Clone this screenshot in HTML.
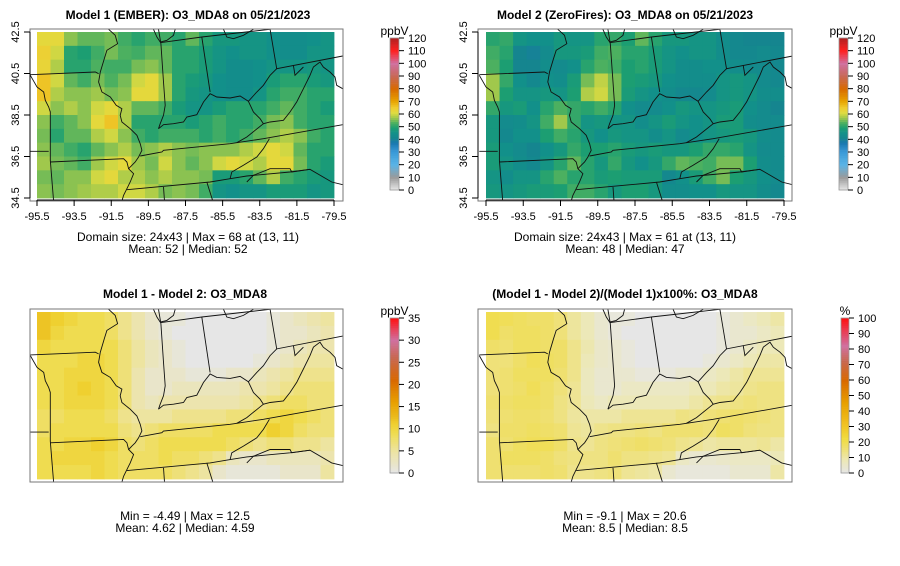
<!DOCTYPE html>
<html><head><meta charset="utf-8"><style>
body{margin:0;background:#fff;}
svg text{font-family:"Liberation Sans",sans-serif;}
</style></head><body>
<svg id="fig" width="900" height="561" xmlns="http://www.w3.org/2000/svg"></svg>
<script>
// ---- data (12 rows x 22 cols, north->south, west->east) ----
const model1O3 = [
[62,62,56,54,54,55,52,50,52,52,50,54,50,47,47,46,46,45,44,44,45,46],
[64,60,50,49,52,55,53,52,54,54,50,50,48,46,45,46,46,45,44,44,46,46],
[63,58,50,50,53,52,52,55,56,54,50,50,48,46,44,44,45,46,46,46,47,46],
[66,60,54,52,55,53,55,60,62,57,50,48,47,45,44,44,45,48,50,50,48,47],
[66,58,56,56,57,55,56,62,62,57,50,47,46,45,44,44,46,50,52,52,50,50],
[60,56,58,56,60,62,58,54,54,52,48,46,46,48,50,50,50,52,54,52,50,48],
[56,52,54,56,62,66,58,50,50,50,50,48,50,52,50,50,52,55,56,52,50,50],
[55,50,54,54,58,60,56,52,50,52,52,52,50,52,50,52,54,56,58,56,52,50],
[56,54,52,50,54,56,58,55,56,58,56,55,56,56,56,58,60,62,60,54,50,50],
[57,55,54,52,57,60,62,57,55,60,56,54,56,60,62,60,58,62,62,55,50,48],
[55,54,56,56,60,62,58,58,56,58,56,56,55,48,48,50,54,58,52,50,48,47],
[56,55,56,57,58,58,60,60,58,55,56,55,52,46,45,46,46,48,48,48,46,47]];
const model2O3 = [
[50,51,46,45,45,47,46,46,50,51,49,54,50,47,47,46,46,44,42,41,41,41],
[52,50,41,40,43,47,47,48,52,53,50,50,48,46,45,46,46,44,42,42,43,42],
[53,49,41,41,44,43,45,50,53,52,49,50,48,46,44,44,45,45,44,43,43,42],
[57,51,45,42,45,44,48,55,59,55,49,48,47,45,44,44,44,46,47,46,43,42],
[57,49,46,46,47,46,49,58,60,55,48,46,45,44,42,42,43,46,47,46,44,44],
[51,47,48,45,50,53,51,50,52,50,45,43,43,45,47,46,46,47,48,45,43,41],
[47,43,44,46,52,57,51,46,47,46,46,44,46,48,46,45,46,48,48,44,43,43],
[47,42,45,45,49,52,50,47,45,47,46,46,44,46,43,45,46,47,48,47,44,43],
[48,45,43,41,45,47,51,49,49,50,48,47,48,47,47,49,51,51,50,46,43,43],
[48,46,44,42,46,50,54,50,47,51,47,45,47,51,54,53,52,55,55,49,44,43],
[46,44,46,46,50,53,50,50,48,49,48,48,48,42,45,48,52,55,49,47,45,43],
[47,46,47,48,48,49,52,52,50,47,49,49,47,44,44,45,45,47,46,46,44,42]];
const diffPpb = [
[12,11,10,9,9,8,6,4,2,1,1,0,0,0,0,0,0,1,2,3,4,5],
[12,10,9,9,9,8,6,4,2,1,0,0,0,0,0,0,0,1,2,2,3,4],
[10,9,9,9,9,9,7,5,3,2,1,0,0,0,0,0,0,1,2,3,4,4],
[9,9,9,10,10,9,7,5,3,2,1,0,0,0,0,0,1,2,3,4,5,5],
[9,9,10,10,10,9,7,4,2,2,2,1,1,1,2,2,3,4,5,6,6,6],
[9,9,10,11,10,9,7,4,2,2,3,3,3,3,3,4,4,5,6,7,7,7],
[9,9,10,10,10,9,7,4,3,4,4,4,4,4,4,5,6,7,8,8,7,7],
[8,8,9,9,9,8,6,5,5,5,6,6,6,6,7,7,8,9,10,9,8,7],
[8,9,9,9,9,9,7,6,7,8,8,8,8,9,9,9,9,11,10,8,7,7],
[9,9,10,10,11,10,8,7,8,9,9,9,9,9,8,7,6,7,7,6,6,5],
[9,10,10,10,10,9,8,8,8,9,8,8,7,6,3,2,2,3,3,3,3,4],
[9,9,9,9,10,9,8,8,8,8,7,6,5,2,1,1,1,1,2,2,2,5]];
const diffPct = [
[20,19,18,17,17,15,11,8,4,2,2,0,0,0,0,0,0,2,4,6,8,10],
[20,17,18,18,17,15,11,8,4,2,0,0,0,0,0,0,0,2,4,4,6,8],
[17,16,18,18,17,17,13,9,5,4,2,0,0,0,0,0,0,2,4,6,8,8],
[15,15,17,19,18,17,13,8,5,4,2,0,0,0,0,0,2,4,6,8,10,10],
[15,16,18,18,18,16,13,7,4,4,4,2,2,2,4,4,6,8,10,12,12,12],
[15,16,17,19,17,15,12,7,4,4,6,6,6,6,6,8,8,10,11,13,14,14],
[16,17,18,18,17,14,12,8,6,8,8,8,8,8,8,10,12,13,14,15,14,14],
[15,16,17,17,16,14,11,10,10,10,12,12,12,12,14,13,15,16,17,16,15,14],
[14,17,17,18,17,16,12,11,13,14,14,15,14,16,16,16,15,18,17,15,14,14],
[16,16,18,19,19,17,13,12,14,15,16,17,16,15,13,12,10,11,11,11,12,10],
[16,18,18,18,17,15,14,14,14,16,14,14,13,12,6,4,4,5,6,6,6,8],
[16,16,16,16,17,16,13,13,14,15,12,11,10,4,2,2,2,2,4,4,4,10]];
const xTickLabels = ["-95.5","-93.5","-91.5","-89.5","-87.5","-85.5","-83.5","-81.5","-79.5"];
const yTickLabels = ["42.5","40.5","38.5","36.5","34.5"];
const o3Ticks = [0,10,20,30,40,50,60,70,80,90,100,110,120];
const diffTicks = [0,5,10,15,20,25,30,35];
const pctTicks = [0,10,20,30,40,50,60,70,80,90,100];

// ---- palettes ----
const palO3 = [[0,"#e8e8e8"],[10,"#9a9a9a"],[20,"#5ab4e6"],[30,"#3a9ad8"],[37,"#1a78b0"],[41,"#15858f"],[45,"#12908a"],[49,"#1c9e72"],[53,"#4cb060"],[57,"#a0c84c"],[61,"#e0dc40"],[65,"#f0cc30"],[70,"#e8a400"],[80,"#d86a00"],[90,"#c86858"],[100,"#d070a0"],[110,"#ff2020"],[120,"#b02020"]];
const palDiff = [[0,"#e6e6e6"],[5,"#ede4a0"],[9,"#efdc50"],[11,"#efd030"],[13,"#eab81a"],[16,"#e8a000"],[21,"#d86800"],[26,"#c86850"],[30,"#d070a0"],[35,"#ff1010"]];
const palPct = [[0,"#e6e6e6"],[8,"#ece8b8"],[16,"#efe070"],[22,"#f0dc40"],[32,"#f0c020"],[45,"#e8a000"],[60,"#d86800"],[72,"#c86850"],[82,"#d070a0"],[100,"#ff1010"]];
function hex(c){return [1,3,5].map(i=>parseInt(c.substr(i,2),16));}
function colorOf(pal,v){
  if(v<=pal[0][0])return pal[0][1];
  for(let i=1;i<pal.length;i++){
    if(v<=pal[i][0]){const a=pal[i-1],b=pal[i];const t=(v-a[0])/(b[0]-a[0]);
      const ca=hex(a[1]),cb=hex(b[1]);
      return "rgb("+ca.map((x,k)=>Math.round(x+(cb[k]-x)*t)).join(",")+")";}
  }
  return pal[pal.length-1][1];
}

const NS="http://www.w3.org/2000/svg";
const svg=document.getElementById("fig");
function mk(tag,attrs,parent){const e=document.createElementNS(NS,tag);for(const k in attrs)e.setAttribute(k,attrs[k]);(parent||svg).appendChild(e);return e;}

const Z=[[0,148,195,140,205,145],
[235,12,255,30,262,55,230,75,222,100,210,140,205,170,215,200,240,215,258,240,275,250,270,270,275,290,300,310,320,330,330,355,335,375,325,395,315,410,305,420,295,430,310,445,300,470,290,490,280,510,275,527],
[0,150,20,185,40,200,45,225,55,245,60,260,60,300,60,340,60,405,70,527],
[0,378,55,378],
[60,410,280,400,290,410,295,430],
[330,392,395,380,400,375,600,355,700,340,938,298],
[290,493,540,470,600,460,650,452,780,440,840,432],
[600,460,605,440,640,420,680,395,700,370,718,340],
[650,470,670,450,720,430,780,430,785,440,840,432,905,470,938,478],
[400,485,403,527],[530,470,548,527],
[385,12,392,55,400,170,405,240,400,270,390,295,385,310],
[385,310,400,298,430,295,460,290,470,275,500,268,520,230,540,205,560,215,600,218,630,212,655,228,680,200,700,180,720,150,740,130],
[655,228,670,260,690,280,700,295,720,290,760,285,780,260,800,230,820,190,840,150,850,125,870,110,880,125,900,140,915,155,920,180,938,190],
[700,295,650,335,620,352],
[515,35,540,200],
[390,52,515,35,720,12],
[370,12,380,35,390,50,410,45,430,30,435,12],
[580,12,590,35,610,40,640,30,670,12],
[720,12,740,130,938,92],
[790,120,795,150,820,125]];

function panel(id,frame,dataR,grid,pal,title,axes,stats,cb){
  const g=mk("g",{},svg);
  
  
  const cid="clip-"+id;
  const cp=mk("clipPath",{id:cid},g);
  mk("rect",{x:frame[0],y:frame[1],width:frame[2]-frame[0],height:frame[3]-frame[1]},cp);
  const rows=grid.length,cols=grid[0].length;
  const xs=c=>dataR[0]+c*(dataR[2]-dataR[0])/cols;
  const ys=r=>dataR[1]+r*(dataR[3]-dataR[1])/rows;
  const cells=mk("g",{},g);
  
  
  for(let r=0;r<rows;r++)for(let c=0;c<cols;c++){
    const e=mk("rect",{x:xs(c).toFixed(2),y:ys(r).toFixed(2),width:(xs(c+1)-xs(c)+0.4).toFixed(2),height:(ys(r+1)-ys(r)+0.4).toFixed(2),fill:colorOf(pal,grid[r][c])},cells);
    
    
  }
  const bg=mk("g",{"clip-path":"url(#"+cid+")",fill:"none",stroke:"#111","stroke-width":"0.9"},g);
  
  
  const W=dataR[2]-dataR[0],H=dataR[3]-dataR[1];
  Z.forEach(p=>{let pts=[];for(let i=0;i<p.length;i+=2){pts.push((dataR[0]+(p[i]-20)/892*W).toFixed(1)+","+(dataR[1]+(p[i+1]-20)/498*H).toFixed(1));}
    mk("polyline",{points:pts.join(" ")},bg);});
  const fr=mk("rect",{x:frame[0],y:frame[1],width:frame[2]-frame[0],height:frame[3]-frame[1],fill:"none",stroke:"#777","stroke-width":"1"},g);
  
  
  const t=mk("text",{x:title[1],y:title[2],"text-anchor":"middle","font-size":"12","font-weight":"bold"},g);
  t.textContent=title[0];
  
  
  if(axes){
    const ax=mk("g",{stroke:"#000","stroke-width":"1"},g);
    
    
    const by=frame[3]-1;
    mk("line",{x1:dataR[0],x2:dataR[2],y1:by,y2:by},ax);
    xTickLabels.forEach((l,i)=>{const x=dataR[0]+i*(dataR[2]-dataR[0])/(xTickLabels.length-1);
      mk("line",{x1:x,x2:x,y1:by,y2:by+6},ax);
      const tx=mk("text",{x:x,y:by+20,"text-anchor":"middle","font-size":"11",stroke:"none"},g);tx.textContent=l;
      
      });
    const lx=frame[0];
    mk("line",{x1:lx,x2:lx,y1:dataR[1],y2:dataR[3]},ax);
    yTickLabels.forEach((l,i)=>{const y=dataR[1]+i*(dataR[3]-dataR[1])/(yTickLabels.length-1);
      mk("line",{x1:lx,x2:lx-6,y1:y,y2:y},ax);
      const ty=mk("text",{x:lx-11,y:y,"text-anchor":"middle","font-size":"11",transform:"rotate(-90 "+(lx-11)+" "+y+")",stroke:"none"},g);ty.textContent=l;
      
      });
  }
  stats.forEach((s,i)=>{const e=mk("text",{x:title[1],y:s[1],"text-anchor":"middle","font-size":"12"},g);e.textContent=s[0];
    
    });
  const [bx,by0,bw,by1,ticks,unit]=cb;
  const cg=mk("g",{},g);
  
  
  const vmax=ticks[ticks.length-1],N=80;
  for(let i=0;i<N;i++){const v0=vmax*i/N;const y=by1-(i+1)*(by1-by0)/N;
    mk("rect",{x:bx,y:y.toFixed(2),width:bw,height:((by1-by0)/N+0.3).toFixed(2),fill:colorOf(pal,v0+vmax/N/2)},cg);}
  mk("rect",{x:bx,y:by0,width:bw,height:by1-by0,fill:"none",stroke:"#999","stroke-width":"0.8"},cg);
  ticks.forEach(v=>{const y=by1-v/vmax*(by1-by0);
    mk("line",{x1:bx+bw,x2:bx+bw+5,y1:y,y2:y,stroke:"#000"},cg);
    const e=mk("text",{x:bx+bw+9,y:y+4,"font-size":"11"},cg);e.textContent=v;
    
    });
  const u=mk("text",{x:bx+bw/2,y:by0-3,"text-anchor":"middle","font-size":"12"},cg);u.textContent=unit;
  
  
}
panel("panel-model1",[30,29,343,201],[37,32,334,198],model1O3,palO3,["Model 1 (EMBER): O3_MDA8 on 05/21/2023",188,19],true,
  [["Domain size: 24x43 | Max = 68 at (13, 11)",241],["Mean: 52 |  Median: 52",253]],[390,38,9,190,o3Ticks,"ppbV"]);
panel("panel-model2",[478,29,792,201],[486,32,784,198],model2O3,palO3,["Model 2 (ZeroFires): O3_MDA8 on 05/21/2023",625,19],true,
  [["Domain size: 24x43 | Max = 61 at (13, 11)",241],["Mean: 48 |  Median: 47",253]],[839,38,9,190,o3Ticks,"ppbV"]);
panel("panel-diff",[30,309,343,482],[37,312,334,479],diffPpb,palDiff,["Model 1 - Model 2: O3_MDA8",185,298],false,
  [["Min = -4.49 | Max = 12.5",520],["Mean: 4.62 |  Median: 4.59",532]],[390,318,9,473,diffTicks,"ppbV"]);
panel("panel-pct",[478,309,792,482],[486,312,784,479],diffPct,palPct,["(Model 1 - Model 2)/(Model 1)x100%: O3_MDA8",625,298],false,
  [["Min = -9.1 | Max = 20.6",520],["Mean: 8.5 |  Median: 8.5",532]],[841,318,8,473,pctTicks,"%"]);
</script>
</body></html>
